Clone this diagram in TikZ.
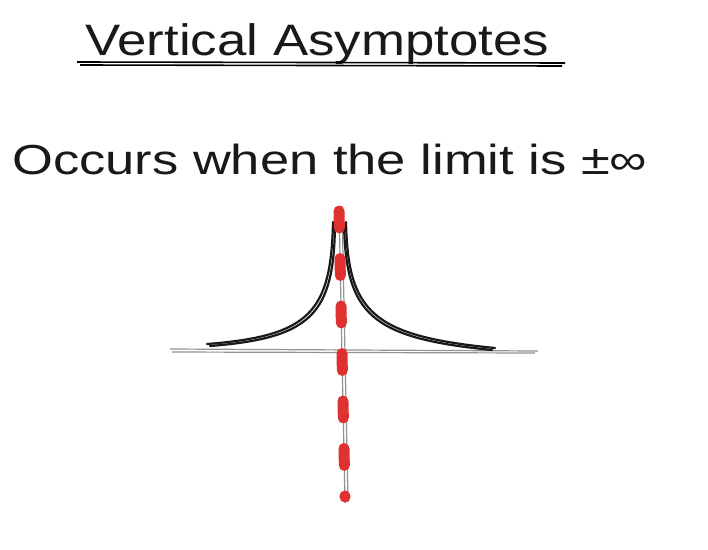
\documentclass[tikz,border=0pt]{standalone}
\usepackage{fontspec}
\setmainfont{Liberation Sans}
\begin{document}
\begin{tikzpicture}[x=1pt,y=-1pt,
  axisline/.style={draw=gray!85, line width=1.2pt},
  curveline/.style={draw=black!90, line width=2.2pt, line cap=round},
  txt/.style={inner sep=0pt, anchor=base west, text=black!90}]
\definecolor{asymred}{RGB}{224,49,49}
\useasboundingbox[fill=white] (0,0) rectangle (708,549);
% title
\node[txt, font=\fontsize{44}{50}\selectfont, xscale=1.2] (title) at (85,55) {Vertical Asymptotes};
\coordinate (ul1a) at (77,62); \coordinate (ul1b) at (565,63);
\coordinate (ul2a) at (80,65); \coordinate (ul2b) at (562,66);
\draw[line width=1.6pt] (ul1a) -- (ul1b);
\draw[line width=1.6pt] (ul2a) -- (ul2b);
% subtitle
\node[txt, font=\fontsize{42}{48}\selectfont, xscale=1.25] (sub) at (12,174) {Occurs when the limit is ±∞};
% axes
\coordinate (hx1) at (170,349); \coordinate (hx2) at (538,351);
\coordinate (hy1) at (172,352); \coordinate (hy2) at (535,353);
\draw[axisline] (hx1) -- (hx2);
\draw[axisline] (hy1) -- (hy2);
\coordinate (vx1) at (339,206); \coordinate (vx2) at (345,503);
\coordinate (vy1) at (342,206); \coordinate (vy2) at (348,502);
\draw[axisline] (vx1) -- (vx2);
\draw[axisline] (vy1) -- (vy2);
% curve (double stroke)
\draw[curveline] (207,344) .. controls (310,336) and (331,312) .. (333,222);
\draw[curveline] (210,346) .. controls (312,338) and (334,314) .. (335,224);
\draw[curveline] (346,222) .. controls (348,312) and (372,336) .. (495,348);
\draw[curveline] (344,224) .. controls (346,314) and (370,338) .. (492,350);
% red asymptote
\coordinate (a1) at (339,211); \coordinate (a2) at (345,497);
\draw[line width=11pt, line cap=round, draw=asymred, dash pattern=on 17pt off 30.5pt] (a1) -- (a2);
\end{tikzpicture}
\end{document}
